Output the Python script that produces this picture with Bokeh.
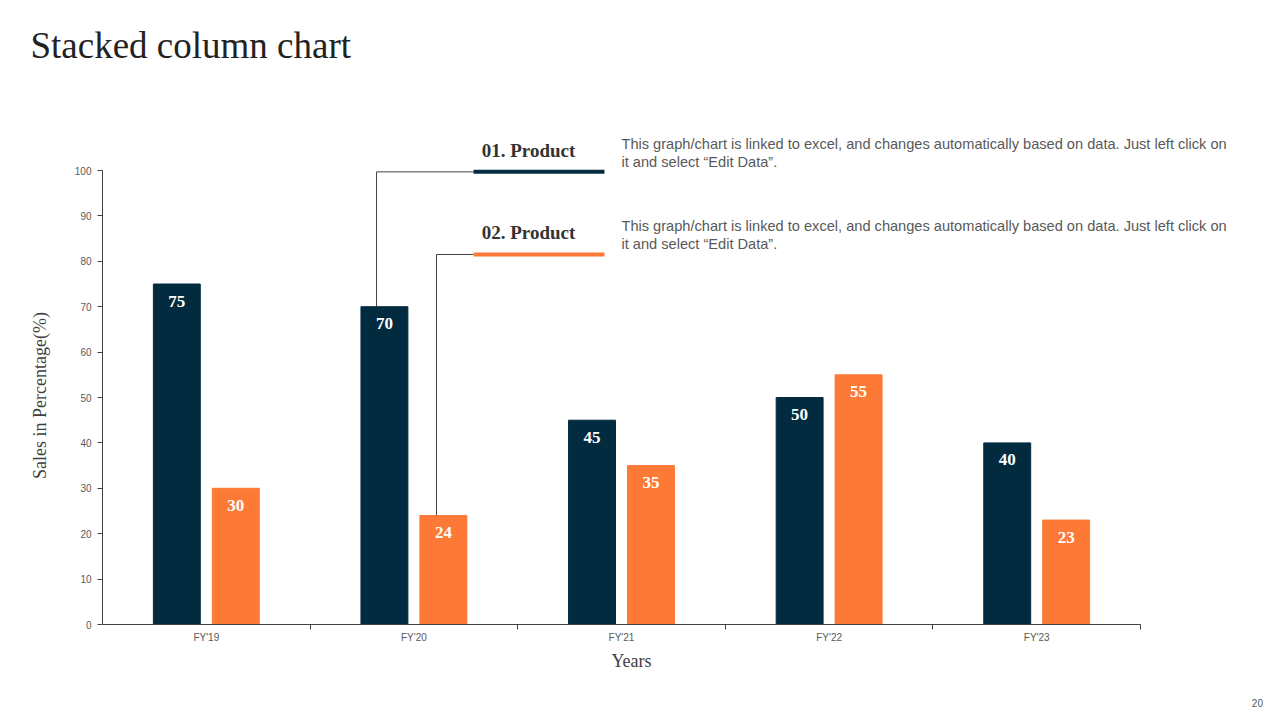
from bokeh.plotting import figure
from bokeh.models import Range1d, FixedTicker
from bokeh.embed import file_html
from bokeh.resources import INLINE
from bokeh.core.properties import value

# ---- data ----
years = ["FY'19", "FY'20", "FY'21", "FY'22", "FY'23"]
product1 = [75, 70, 45, 50, 40]
product2 = [30, 24, 35, 55, 23]
y_ticks = [0, 10, 20, 30, 40, 50, 60, 70, 80, 90, 100]
series_names = ["01. Product", "02. Product"]
desc_line1 = "This graph/chart is linked to excel, and changes automatically based on data. Just left click on"
desc_line2 = "it and select \u201cEdit Data\u201d."
title_text = "Stacked column chart"
x_title = "Years"
y_title = "Sales in Percentage(%)"
page_number = "20"

NAVY = "#022B40"
ORANGE = "#FD7936"
AXIS = "#404040"
GRAY = "#595959"
SERIF = "Liberation Serif"
SANS = "Liberation Sans"

# ---- layout geometry (pixels) ----
W, H = 1280, 720
FRAME_L, FRAME_T, ZERO_Y = 102, 70, 624
CAT_W = 207.6           # pixels per category
PX_PER_UNIT = 4.54      # pixels per percentage point
x_end = (W - FRAME_L) / CAT_W
y_end = (ZERO_Y - FRAME_T) / PX_PER_UNIT
y_start = -(H - ZERO_Y) / PX_PER_UNIT

p = figure(width=W, height=H, output_backend="svg", toolbar_location=None,
           x_range=Range1d(0, x_end), y_range=Range1d(y_start, y_end),
           min_border_left=FRAME_L, min_border_right=0,
           min_border_top=FRAME_T, min_border_bottom=0)
p.outline_line_color = None
p.xgrid.grid_line_color = None
p.ygrid.grid_line_color = None
p.background_fill_color = "white"
p.border_fill_color = "white"

# title
p.title.text = title_text
p.title.align = "left"
p.title.offset = 30 - FRAME_L
p.title.text_font = SERIF
p.title.text_font_style = "normal"
p.title.text_font_size = "37px"
p.title.text_color = "#222222"
p.title.standoff = 10

idx = list(range(len(years)))
off = 0.142
bw = 0.226
x1 = [i + 0.5 - off for i in idx]
x2 = [i + 0.5 + off for i in idx]

p.vbar(x=x1, top=product1, width=bw, color=NAVY)
p.vbar(x=x2, top=product2, width=bw, color=ORANGE)

p.text(x=x1, y=product1, text=[str(v) for v in product1], text_align="center",
       text_baseline="middle", y_offset=17, text_color="white",
       text_font=value(SERIF), text_font_style="bold", text_font_size="17px")
p.text(x=x2, y=product2, text=[str(v) for v in product2], text_align="center",
       text_baseline="middle", y_offset=17, text_color="white",
       text_font=value(SERIF), text_font_style="bold", text_font_size="17px")

# x axis (drawn at y = 0)
xa = p.xaxis[0]
xa.fixed_location = 0
xa.bounds = (0, len(years))
xa.ticker = FixedTicker(ticks=[i + 0.5 for i in idx], minor_ticks=[i + 1 for i in idx])
xa.major_label_overrides = {i + 0.5: years[i] for i in idx}
xa.major_tick_line_color = None
xa.major_tick_in = 0
xa.major_tick_out = 0
xa.minor_tick_line_color = AXIS
xa.minor_tick_in = 0
xa.minor_tick_out = 5
xa.axis_line_color = AXIS
xa.major_label_text_font = SANS
xa.major_label_text_font_size = "10px"
xa.major_label_text_color = GRAY
xa.major_label_standoff = 2

ya = p.yaxis[0]
ya.bounds = (0, 100)
ya.ticker = FixedTicker(ticks=y_ticks, minor_ticks=[])
ya.axis_line_color = AXIS
ya.major_tick_line_color = AXIS
ya.major_tick_in = 0
ya.major_tick_out = 5
ya.major_label_text_font = SANS
ya.major_label_text_font_size = "10px"
ya.major_label_text_color = GRAY
ya.major_label_standoff = 6
ya.axis_label = y_title
ya.axis_label_text_font = SERIF
ya.axis_label_text_font_style = "normal"
ya.axis_label_text_font_size = "18px"
ya.axis_label_text_color = "#404040"
ya.axis_label_standoff = 22

# x axis title
p.text(x=[2.548], y=[-7.93], text=[x_title], text_align="center", text_baseline="middle",
       text_color="#404040", text_font=value(SERIF), text_font_size="18px")

# connector lines and legend bars
leg_x0, leg_x1 = 1.787, 2.418
y_leg1, y_leg2 = 99.7, 81.5
p.line(x=[1.32, 1.32, leg_x0], y=[product1[1], y_leg1, y_leg1], line_color=AXIS, line_width=1)
p.line(x=[1.609, 1.609, leg_x0], y=[product2[1], y_leg2, y_leg2], line_color=AXIS, line_width=1)
p.segment(x0=[leg_x0, leg_x0], y0=[y_leg1, y_leg2], x1=[leg_x1, leg_x1], y1=[y_leg1, y_leg2],
          line_color=[NAVY, ORANGE], line_width=4)

# legend headings
p.text(x=[2.052, 2.052], y=[104.4, 86.3], text=series_names, text_align="center",
       text_baseline="middle", text_color="#333333", text_font=value(SERIF),
       text_font_style="bold", text_font_size="19px")

# descriptions
p.text(x=[2.5, 2.5], y=[105.9, 87.8], text=[desc_line1, desc_line1], text_align="left",
       text_baseline="middle", text_color=GRAY, text_font=value(SANS), text_font_size="14.6px")
p.text(x=[2.5, 2.5], y=[101.94, 83.84], text=[desc_line2, desc_line2], text_align="left",
       text_baseline="middle", text_color=GRAY, text_font=value(SANS), text_font_size="14.6px")

# page number
p.text(x=[5.563], y=[-17.4], text=[page_number], text_align="center", text_baseline="middle",
       text_color=GRAY, text_font=value(SANS), text_font_size="10px")

open("out.html", "w").write(file_html(p, INLINE))
